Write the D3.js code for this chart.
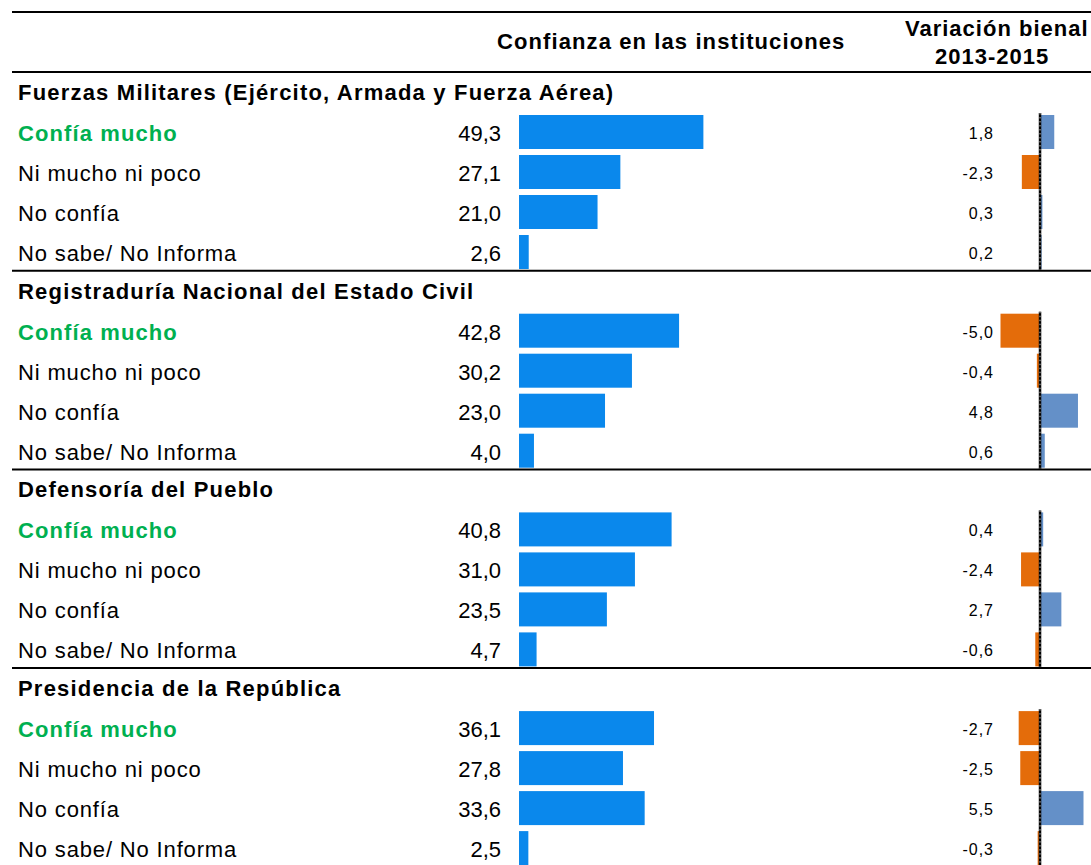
<!DOCTYPE html>
<html>
<head>
<meta charset="utf-8">
<script src="https://cdn.jsdelivr.net/npm/d3@7"></script>
<style>
  body { margin: 0; background: #fff; }
  text { font-family: "Liberation Sans", Arial, sans-serif; }
</style>
</head>
<body>
<script>
// Confianza en las instituciones + variacion bienal 2013-2015

const institutions = ["Fuerzas Militares (Ejército, Armada y Fuerza Aérea)",
                      "Registraduría Nacional del Estado Civil",
                      "Defensoría del Pueblo",
                      "Presidencia de la República"];

const categories = ["Confía mucho", "Ni mucho ni poco", "No confía", "No sabe/ No Informa"];

// percentages, one row per institution (same order as categories)
const confianza = [[49.3, 27.1, 21.0, 2.6],
                   [42.8, 30.2, 23.0, 4.0],
                   [40.8, 31.0, 23.5, 4.7],
                   [36.1, 27.8, 33.6, 2.5]];

// variation in points 2013-2015
const variacion = [[1.8, -2.3, 0.3, 0.2],
                   [-5.0, -0.4, 4.8, 0.6],
                   [0.4, -2.4, 2.7, -0.6],
                   [-2.7, -2.5, 5.5, -0.3]];

const width = 1091, height = 865;
const headerBottom = 72;
const sectionH = 198.7;

const locale = d3.formatLocale({decimal: ",", thousands: ".", grouping: [3], currency: ["$", ""], minus: "-"});
const fmt = locale.format(".1f");

const svg = d3.select("body").append("svg")
  .attr("width", width)
  .attr("height", height);

// scales
const ySection = d3.scaleBand()
  .domain(institutions)
  .range([headerBottom, headerBottom + sectionH * institutions.length]);

const yRow = d3.scaleBand()
  .domain(categories)
  .range([40, 200])
  .paddingInner(0.15)
  .paddingOuter(0.075);

const x = d3.scaleLinear().domain([0, 50]).range([519, 706]);
const xv = d3.scaleLinear().domain([-5, 5.5]).range([1000.5, 1083.5]);

// header
svg.append("line")
  .attr("x1", 12).attr("x2", width).attr("y1", 12).attr("y2", 12)
  .attr("stroke", "#000").attr("stroke-width", 2);

svg.append("text")
  .attr("x", 497).attr("y", 49)
  .style("font-size", "22px").style("font-weight", "bold")
  .style("letter-spacing", "1.1px")
  .text("Confianza en las instituciones");

svg.append("text")
  .attr("x", 905).attr("y", 36)
  .style("font-size", "22px").style("font-weight", "bold")
  .style("letter-spacing", "1px")
  .text("Variación bienal");

svg.append("text")
  .attr("x", 935).attr("y", 64)
  .style("font-size", "22px").style("font-weight", "bold")
  .style("letter-spacing", "1px")
  .text("2013-2015");

// sections
const sections = svg.selectAll(".section")
  .data(institutions.map((name, i) => ({name: name, conf: confianza[i], vari: variacion[i]})))
  .join("g")
  .attr("class", "section")
  .attr("transform", d => "translate(0," + ySection(d.name) + ")");

// separator line on top of each section
sections.append("line")
  .attr("x1", 12).attr("x2", width).attr("y1", 0).attr("y2", 0)
  .attr("stroke", "#000").attr("stroke-width", 2);

sections.append("text")
  .attr("x", 18).attr("y", 28)
  .style("font-size", "22px").style("font-weight", "bold")
  .style("letter-spacing", "1.2px")
  .text(d => d.name);

const rows = sections.selectAll(".row")
  .data(d => categories.map((c, j) => ({cat: c, conf: d.conf[j], vari: d.vari[j]})))
  .join("g")
  .attr("class", "row")
  .attr("transform", d => "translate(0," + yRow(d.cat) + ")");

const bh = yRow.bandwidth();

rows.append("text")
  .attr("x", 18).attr("y", bh / 2 + 9)
  .style("font-size", "22px")
  .style("letter-spacing", (d, j) => j === 0 ? "1.1px" : "0.85px")
  .style("font-weight", (d, j) => j === 0 ? "bold" : "normal")
  .style("fill", (d, j) => j === 0 ? "#00B050" : "#000")
  .text(d => d.cat);

rows.append("text")
  .attr("x", 501).attr("y", bh / 2 + 9)
  .attr("text-anchor", "end")
  .style("font-size", "22px")
  .text(d => fmt(d.conf));

rows.append("rect")
  .attr("x", x(0))
  .attr("y", 0)
  .attr("width", d => x(d.conf) - x(0))
  .attr("height", bh)
  .attr("fill", "#0A88EC");

rows.append("text")
  .attr("x", 994).attr("y", bh / 2 + 7)
  .attr("text-anchor", "end")
  .style("font-size", "16px")
  .style("letter-spacing", "1px")
  .text(d => fmt(d.vari));

rows.append("rect")
  .attr("x", d => xv(Math.min(0, d.vari)))
  .attr("y", 0)
  .attr("width", d => Math.abs(xv(d.vari) - xv(0)))
  .attr("height", bh)
  .attr("fill", d => d.vari < 0 ? "#E46C0A" : "#6490C8");

// zero line of the variation bars
sections.append("line")
  .attr("x1", xv(0)).attr("x2", xv(0))
  .attr("y1", yRow(categories[0]) - 2).attr("y2", sectionH)
  .attr("stroke", "#000").attr("stroke-width", 2.5);

sections.append("line")
  .attr("x1", xv(0)).attr("x2", xv(0))
  .attr("y1", yRow(categories[0]) - 2).attr("y2", sectionH)
  .attr("stroke", "#bbb").attr("stroke-width", 1)
  .attr("stroke-dasharray", "1.5,2.5");
</script>
</body>
</html>
